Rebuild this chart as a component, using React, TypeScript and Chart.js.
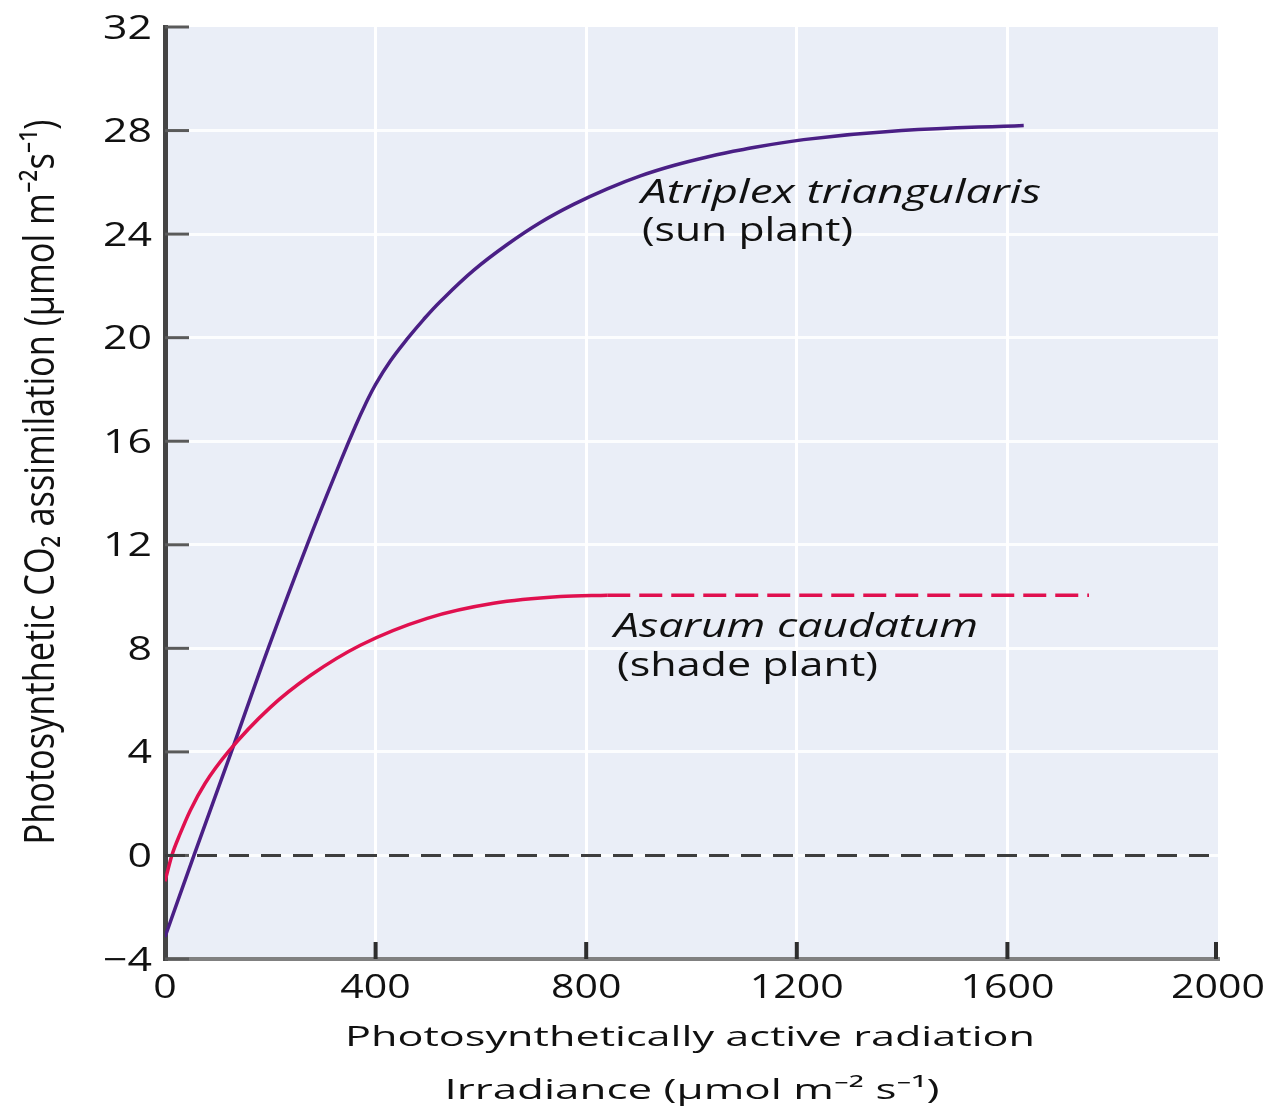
import { useEffect, useRef } from "react";
import { Chart, registerables } from "chart.js";

Chart.register(...registerables);

// ---- data ----
const sunX = [0, 55, 126, 196, 270, 335, 362, 380, 400, 428, 460, 491, 523, 586, 650, 713, 776, 840, 903, 966, 1030, 1093, 1213, 1399, 1631];
const sunY = [-3.15, 0, 4.0, 8.0, 12.0, 15.3, 16.6, 17.4, 18.2, 19.1, 19.95, 20.7, 21.4, 22.6, 23.6, 24.45, 25.15, 25.75, 26.25, 26.65, 26.98, 27.25, 27.65, 28.0, 28.2];

const shadeX = [0, 13, 29, 48, 76, 120, 200, 276, 371, 498, 624, 751, 840];
const shadeY = [-1.0, 0, 0.85, 1.74, 2.78, 4.0, 5.72, 6.95, 8.12, 9.16, 9.74, 10.0, 10.05];

const shadeExtX = [840, 1755];
const shadeExtY = [10.05, 10.05];

const zeroX = [0, 2000];
const zeroY = [0, 0];

const xTicks = [0, 400, 800, 1200, 1600, 2000];
const yTicks = [-4, 0, 4, 8, 12, 16, 20, 24, 28, 32];

const xTitle1 = "Photosynthetically active radiation";
const xTitle2 = "Irradiance (\u03bcmol m\u207b\u00b2 s\u207b\u00b9)";
const yTitle = "Photosynthetic CO\u2082 assimilation (\u03bcmol m\u207b\u00b2s\u207b\u00b9)";
const sunLabel = ["Atriplex triangularis", "(sun plant)"];
const shadeLabel = ["Asarum caudatum", "(shade plant)"];

const FONT = '"Open Sans", "Noto Sans", "DejaVu Sans", sans-serif';
const PURPLE = "#4a1f85";
const CRIMSON = "#e0104f";

const pts = (xs: number[], ys: number[]) => xs.map((x, i) => ({ x, y: ys[i] }));

function drawFit(
  ctx: CanvasRenderingContext2D,
  text: string,
  x: number,
  y: number,
  font: string,
  width: number,
  align: CanvasTextAlign
) {
  ctx.save();
  ctx.font = font;
  ctx.textBaseline = "alphabetic";
  ctx.textAlign = align;
  const w = ctx.measureText(text).width;
  ctx.translate(x, y);
  ctx.scale(width / w, 1);
  ctx.fillStyle = "#111";
  ctx.fillText(text, 0, 0);
  ctx.restore();
}

const decor = {
  id: "decor",
  beforeDraw(chart: any) {
    const { ctx, chartArea: a } = chart;
    ctx.save();
    ctx.fillStyle = "#ffffff";
    ctx.fillRect(0, 0, chart.width, chart.height);
    ctx.fillStyle = "#eaeef7";
    ctx.fillRect(a.left, a.top, a.right - a.left, a.bottom - a.top);
    ctx.restore();
  },
  beforeDatasetsDraw(chart: any) {
    const { ctx, chartArea: a, scales } = chart;
    const xs = scales.x;
    const ys = scales.y;
    ctx.save();
    // inward y ticks
    ctx.strokeStyle = "#5a5a5a";
    ctx.lineWidth = 3;
    yTicks.forEach((v) => {
      const py = ys.getPixelForValue(v);
      ctx.beginPath();
      ctx.moveTo(a.left, py);
      ctx.lineTo(a.left + 24, py);
      ctx.stroke();
    });
    // inward x ticks
    ctx.strokeStyle = "#2e2e2e";
    ctx.lineWidth = 4;
    xTicks.slice(1).forEach((v) => {
      const px = Math.min(xs.getPixelForValue(v), a.right - 2);
      ctx.beginPath();
      ctx.moveTo(px, a.bottom);
      ctx.lineTo(px, a.bottom - 17);
      ctx.stroke();
    });
    ctx.restore();
  },
  afterDraw(chart: any) {
    const { ctx, scales } = chart;
    const xs = scales.x;
    const ys = scales.y;
    const tickFont = `33px ${FONT}`;
    yTicks.forEach((v) => {
      const label = v < 0 ? "\u2212" + Math.abs(v) : String(v);
      const py = ys.getPixelForValue(v);
      drawFit(ctx, label, 152, py + 11.5, tickFont, 24.5 * label.length, "right");
    });
    xTicks.forEach((v) => {
      const label = String(v);
      const px = xs.getPixelForValue(v);
      drawFit(ctx, label, px, 998, tickFont, 23.5 * label.length, "center");
    });
    // axis titles
    drawFit(ctx, xTitle1, 690, 1046, `28px ${FONT}`, 690, "center");
    drawFit(ctx, xTitle2, 692, 1099, `28px ${FONT}`, 495, "center");
    ctx.save();
    ctx.font = `32px ${FONT}`;
    const w = ctx.measureText(yTitle).width;
    ctx.translate(54, 482);
    ctx.rotate(-Math.PI / 2);
    ctx.scale(725 / w, 1.3);
    ctx.textAlign = "center";
    ctx.textBaseline = "alphabetic";
    ctx.fillStyle = "#111";
    ctx.fillText(yTitle, 0, 0);
    ctx.restore();
    // curve annotations
    drawFit(ctx, sunLabel[0], 641, 203, `italic 32px ${FONT}`, 400, "left");
    drawFit(ctx, sunLabel[1], 642, 241, `32px ${FONT}`, 211, "left");
    drawFit(ctx, shadeLabel[0], 614, 637, `italic 32px ${FONT}`, 364, "left");
    drawFit(ctx, shadeLabel[1], 617, 676, `32px ${FONT}`, 261, "left");
  },
};

export default function App() {
  const ref = useRef<HTMLCanvasElement | null>(null);
  useEffect(() => {
    document.body.style.margin = "0";
    if (!ref.current) return;
    const chart = new Chart(ref.current, {
      type: "line",
      data: {
        datasets: [
          {
            data: pts(zeroX, zeroY),
            borderColor: "#3d3d3d",
            borderWidth: 3,
            borderDash: [20, 12],
            pointRadius: 0,
          },
          {
            data: pts(shadeExtX, shadeExtY),
            borderColor: CRIMSON,
            borderWidth: 3.5,
            borderDash: [23, 9],
            pointRadius: 0,
          },
          {
            data: pts(shadeX, shadeY),
            borderColor: CRIMSON,
            borderWidth: 3.5,
            pointRadius: 0,
            cubicInterpolationMode: "monotone",
          },
          {
            data: pts(sunX, sunY),
            borderColor: PURPLE,
            borderWidth: 3.5,
            pointRadius: 0,
            tension: 0.4,
          },
        ],
      },
      options: {
        responsive: false,
        animation: false,
        events: [],
        layout: { padding: { left: 165, top: 27, right: 50, bottom: 149 } },
        plugins: { legend: { display: false }, tooltip: { enabled: false } },
        scales: {
          x: {
            type: "linear",
            min: 0,
            max: 2000,
            ticks: { stepSize: 400, display: false },
            grid: {
              drawTicks: false,
              lineWidth: 3,
              color: (c: any) =>
                c.tick && (c.tick.value === 0 || c.tick.value === 2000) ? "rgba(0,0,0,0)" : "#ffffff",
            },
            border: { display: true, color: "#808080", width: 4 },
          },
          y: {
            type: "linear",
            min: -4,
            max: 32,
            ticks: { stepSize: 4, display: false },
            grid: {
              drawTicks: false,
              lineWidth: 3,
              color: (c: any) =>
                c.tick && (c.tick.value === -4 || c.tick.value === 32) ? "rgba(0,0,0,0)" : "rgba(255,255,255,0.85)",
            },
            border: { display: true, color: "#444444", width: 5 },
          },
        },
      },
      plugins: [decor],
    });
    return () => chart.destroy();
  }, []);
  return <canvas ref={ref} width={1268} height={1108} style={{ display: "block" }} />;
}
